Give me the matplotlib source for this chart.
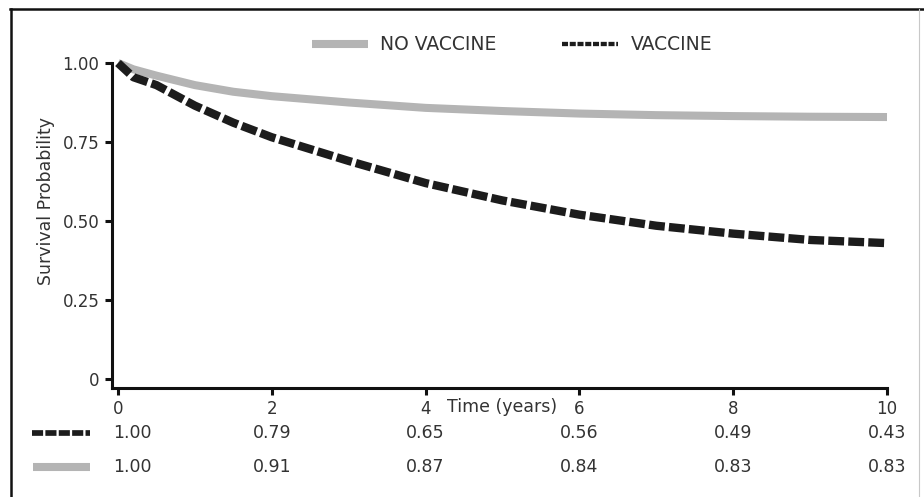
import matplotlib
matplotlib.use("Agg")
import matplotlib.pyplot as plt
import matplotlib.transforms as mtransforms
from matplotlib.lines import Line2D

# curve points
years_curve = [0, 0.2, 0.5, 1, 1.5, 2, 3, 4, 5, 6, 7, 8, 9, 10]
vaccine_curve = [1.00, 0.955, 0.93, 0.865, 0.811, 0.765, 0.69, 0.62, 0.565,
                 0.52, 0.485, 0.46, 0.44, 0.43]
no_vaccine_curve = [1.00, 0.98, 0.96, 0.93, 0.909, 0.895, 0.875, 0.858, 0.848,
                    0.84, 0.835, 0.832, 0.83, 0.829]

# numbers printed under the axis
years_table = [0, 2, 4, 6, 8, 10]
vaccine_table = [1.00, 0.79, 0.65, 0.56, 0.49, 0.43]
no_vaccine_table = [1.00, 0.91, 0.87, 0.84, 0.83, 0.83]

y_ticks = [0, 0.25, 0.50, 0.75, 1.00]
y_ticklabels = ["0", "0.25", "0.50", "0.75", "1.00"]

GRAY = "#b4b4b4"
DARK = "#1c1c1c"
TXT = "#333333"

W, H = 924, 497
fig = plt.figure(figsize=(W / 100, H / 100), dpi=100)
ax = fig.add_axes([112 / W, 1 - 388 / H, (887 - 112) / W, (388 - 63) / H])

ax.plot(years_curve, no_vaccine_curve, color=GRAY, lw=5.8,
        solid_capstyle="butt", solid_joinstyle="round", clip_on=False, zorder=3)
ax.plot(years_curve, vaccine_curve, color=DARK, lw=6.0, dashes=(1.9, 0.5),
        dash_capstyle="butt", clip_on=False, zorder=4)

ax.set_xlim(-0.078, 10)
ax.set_ylim(-0.0285, 1.0)
ax.set_xticks(years_table)
ax.set_yticks(y_ticks)
ax.set_yticklabels(y_ticklabels)

for side in ("top", "right"):
    ax.spines[side].set_visible(False)
for side in ("left", "bottom"):
    ax.spines[side].set_linewidth(2.2)
    ax.spines[side].set_color("#111111")
ax.tick_params(axis="both", width=2.2, color="#111111", labelcolor=TXT,
               labelsize=12)
ax.tick_params(axis="y", length=5, pad=4)
ax.tick_params(axis="x", length=5, pad=4)

# axis titles
fig.text(46 / W, 1 - 201 / H, "Survival Probability", rotation=90,
         ha="center", va="center", fontsize=12.5, color=TXT)
tr = mtransforms.blended_transform_factory(ax.transData, fig.transFigure)
ax.text(5.0, 1 - 407 / H, "Time (years)", transform=tr, ha="center",
        va="center", fontsize=12.5, color=TXT)

# table of values under the axis
row_y = {"vac": 1 - 433 / H, "novac": 1 - 467 / H}
for i, yr in enumerate(years_table):
    ha = "left" if i == 0 else "center"
    xx = yr - 0.06 if i == 0 else yr
    ax.text(xx, row_y["vac"], f"{vaccine_table[i]:.2f}", transform=tr,
            ha=ha, va="center", fontsize=12.5, color=TXT)
    ax.text(xx, row_y["novac"], f"{no_vaccine_table[i]:.2f}", transform=tr,
            ha=ha, va="center", fontsize=12.5, color=TXT)

fig.add_artist(Line2D([32 / W, 90 / W], [row_y["vac"]] * 2, color=DARK,
                      lw=4.1, dashes=(1.95, 0.4), dash_capstyle="butt"))
fig.add_artist(Line2D([33 / W, 90 / W], [row_y["novac"]] * 2, color=GRAY,
                      lw=5.8, solid_capstyle="butt"))

# legend on top
handles = [
    Line2D([], [], color=GRAY, lw=5.8, solid_capstyle="butt"),
    Line2D([], [], color=DARK, lw=3.1, dashes=(1.4, 0.4), dash_capstyle="butt"),
]
leg = ax.legend(handles, ["NO VACCINE", "VACCINE"], ncol=2, frameon=False,
                loc="center", bbox_to_anchor=(512 / W, 1 - 45 / H),
                bbox_transform=fig.transFigure, fontsize=13.5,
                handlelength=3.0, handletextpad=0.65, columnspacing=3.5,
                borderpad=0, borderaxespad=0)
for t in leg.get_texts():
    t.set_color(TXT)

# frame around the figure
fig.add_artist(Line2D([10 / W, 1], [1 - 8.5 / H] * 2, color="#111111", lw=1.8))
fig.add_artist(Line2D([11 / W] * 2, [0, 1 - 8.5 / H], color="#111111", lw=1.8))
fig.add_artist(Line2D([919 / W] * 2, [0, 1 - 8.5 / H], color="#c8c8c8", lw=0.8))

fig.savefig("out.png", dpi=100)
